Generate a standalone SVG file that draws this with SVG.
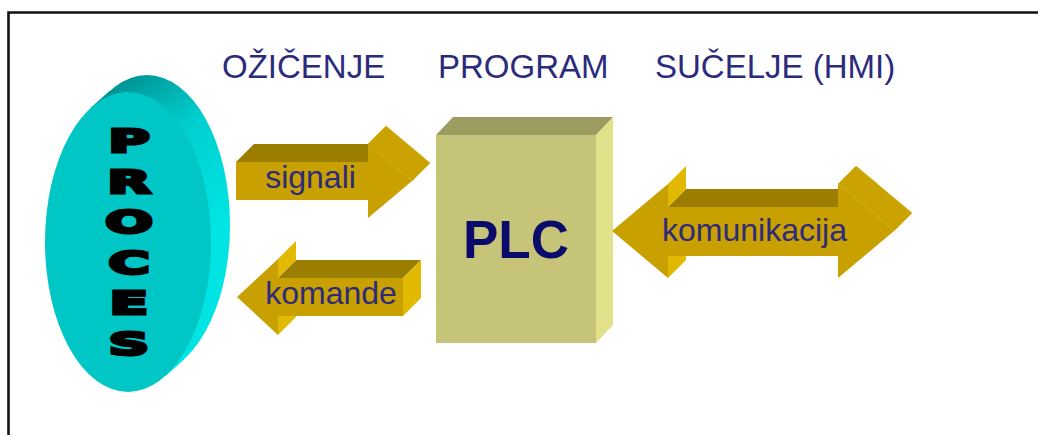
<svg xmlns="http://www.w3.org/2000/svg" width="1038" height="435" viewBox="0 0 1038 435">
  <defs>
    <style>
      .af { fill: #C8A000; }
      .at { fill: #9B7D00; }
      .as { fill: #E0B900; }
      .ah { fill: #CBA300; stroke: #D8B520; stroke-width: 0.8; }
      .lbl { font-family: "Liberation Sans", Arial, sans-serif; font-size: 32px; fill: #2E2A7C; text-anchor: middle; }
      .hdr { font-family: "Liberation Sans", Arial, sans-serif; font-size: 33px; fill: #2B2B7C; }
      .pl { font-family: "DejaVu Sans", "Liberation Sans", sans-serif; font-weight: bold; font-size: 32px; fill: #000; stroke: #000; stroke-width: 3; text-anchor: middle; }
    </style>
    <linearGradient id="sideGrad" gradientUnits="userSpaceOnUse" x1="110" y1="80" x2="210" y2="230">
      <stop offset="0" stop-color="#008E8E"/>
      <stop offset="0.45" stop-color="#00CFCF"/>
      <stop offset="1" stop-color="#00E4E4"/>
    </linearGradient>
  </defs>

  <rect width="1038" height="435" fill="#FFFFFF"/>
  <!-- frame -->
  <path d="M 8.5 440 V 12.5 H 1045" fill="none" stroke="#111" stroke-width="2.6"/>

  <!-- headers -->
  <g id="headers">
    <text class="hdr" x="222" y="78">OŽIČENJE</text>
    <text class="hdr" x="438" y="78">PROGRAM</text>
    <text class="hdr" x="655" y="78">SUČELJE (HMI)</text>
  </g>

  <!-- PROCES node -->
  <g id="proces">
    <ellipse cx="147" cy="225" rx="83" ry="150" fill="url(#sideGrad)"/>
    <polygon points="165,376.5 184,359.5 110,90.5 91,107.5" fill="url(#sideGrad)"/>
    <ellipse cx="128" cy="242" rx="83" ry="150" fill="#00C6C6"/>
    <text class="pl" transform="translate(129,152) scale(1.75,1)">P</text>
    <text class="pl" transform="translate(129,192.5) scale(1.75,1)">R</text>
    <text class="pl" transform="translate(129,233) scale(1.75,1)">O</text>
    <text class="pl" transform="translate(129,273.5) scale(1.75,1)">C</text>
    <text class="pl" transform="translate(129,314) scale(1.75,1)">E</text>
    <text class="pl" transform="translate(129,354.5) scale(1.75,1)">S</text>
  </g>

  <!-- PLC node -->
  <g id="plc">
    <polygon points="436,135 453,117 613,117 596,135" fill="#9C9B60"/>
    <polygon points="596,135 613,117 613,325 596,343" fill="#E1E18C"/>
    <rect x="436" y="135" width="160" height="208" fill="#C5C479"/>
    <text x="516" y="258" font-family="Liberation Sans, Arial, sans-serif" font-weight="bold" font-size="53" fill="#0B0B6B" text-anchor="middle">PLC</text>
  </g>

  <!-- connectors (3D arrows) -->
  <g id="connectors">
    <g id="signali">
      <polygon class="at" points="236,162 254,144 386,144 368,162"/>
      <polygon class="ah" points="368,144 386,126 430,163 412,181"/>
      <polygon class="af" points="236,162 368,162 368,144 412,181 368,218 368,200 236,200"/>
      <text class="lbl" x="310.5" y="188">signali</text>
    </g>
    <g id="komande">
      <polygon class="at" points="278,278 296,260 421,260 403,278"/>
      <polygon class="as" points="403,278 421,260 421,298 403,316"/>
      <polygon class="as" points="278,259 296,241 296,260 278,278"/>
      <polygon class="as" points="278,316 296,298 296,317 278,335"/>
      <polygon class="af" points="237,297 278,259 278,278 403,278 403,316 278,316 278,335"/>
      <text class="lbl" x="331" y="304">komande</text>
    </g>
    <g id="komunikacija">
      <polygon class="at" points="668,207 686,189 856,189 838,207"/>
      <polygon class="as" points="668,184 686,166 686,189 668,207"/>
      <polygon class="as" points="668,256 686,238 686,260 668,278"/>
      <polygon class="ah" points="838,184 856,166 912,213 894,231"/>
      <polygon class="af" points="612,231 668,184 668,207 838,207 838,184 894,231 838,278 838,256 668,256 668,278"/>
      <text class="lbl" x="754.5" y="241">komunikacija</text>
    </g>
  </g>
</svg>
